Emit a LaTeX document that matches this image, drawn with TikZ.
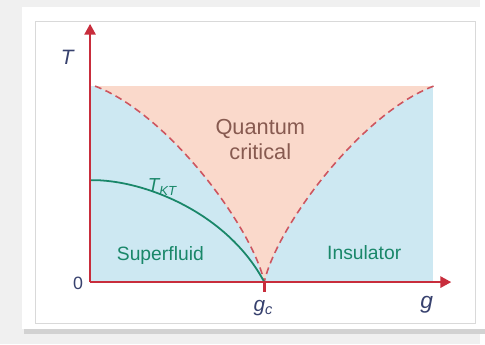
\documentclass[tikz,border=0pt]{standalone}
\usepackage{fontspec}
\setmainfont{Liberation Sans}
\usetikzlibrary{arrows.meta, positioning}
\definecolor{bgblue}{RGB}{205,232,242}
\definecolor{bgpink}{RGB}{250,217,203}
\definecolor{axred}{RGB}{200,45,60}
\definecolor{dashred}{RGB}{205,85,95}
\definecolor{ktgreen}{RGB}{25,135,105}
\definecolor{labblue}{RGB}{55,65,110}
\definecolor{qcbrown}{RGB}{135,90,80}
\begin{document}
\begin{tikzpicture}[
  x=1pt, y=-1pt,
  axis/.style={draw=axred, line width=2.8pt, -{Triangle[length=11pt, width=11pt]}},
  phase/.style={draw=dashred, line width=1.6pt, dash pattern=on 7pt off 4.5pt},
  axlab/.style={text=labblue, font=\fontsize{21}{21}\selectfont\itshape, inner sep=0pt},
  region/.style={text=ktgreen, font=\fontsize{19.5}{19.5}\selectfont, inner sep=0pt}
]
\fill[gray!12] (0,0) rectangle (485,348);
\fill[gray!35] (24,12) rectangle (490,337);
\fill[white] (22,7) rectangle (490,332);
\draw[gray!30, line width=0.6pt] (36,22) rectangle (480,327);
\useasboundingbox (0,0) rectangle (485,348);

\coordinate (O) at (91,285);
\coordinate (gc) at (267,285);
\coordinate (lt) at (96,87);
\coordinate (rt) at (438,87);
\coordinate (tk0) at (91,182);

\fill[bgblue] (91,87) rectangle (437,285);
\fill[bgpink] (lt) .. controls (170,115) and (255,230) .. (gc)
  .. controls (279,230) and (364,115) .. (rt) -- cycle;
\draw[phase] (lt) .. controls (170,115) and (255,230) .. (gc);
\draw[phase] (rt) .. controls (364,115) and (279,230) .. (gc);
\draw[ktgreen, line width=1.8pt] (tk0) .. controls (145,181) and (230,215) .. (gc);

\coordinate (ytop) at (91,24);
\coordinate (xend) at (456,285);
\coordinate (gctick) at (267,295);
\draw[axis] (O) -- (ytop);
\draw[axis] (O) -- (xend);
\draw[axred, line width=2.8pt] (gc) -- (gctick);

\node[axlab] (ylab) at (68,58) {T};
\node[text=labblue, font=\fontsize{18}{18}\selectfont, inner sep=0pt] (zero) at (79,286) {0};
\node[axlab] (gclab) at (266,311) {g\textsubscript{\itshape c}};
\node[axlab, font=\fontsize{23}{23}\selectfont\itshape] (xlab) at (431,308) {g};
\node[text=ktgreen, font=\fontsize{19}{19}\selectfont\itshape, inner sep=0pt] (tkt) at (164,189) {T\textsubscript{KT}};
\node[text=qcbrown, font=\fontsize{22}{25}\selectfont, align=center, inner sep=0pt] (qc) at (263,141) {Quantum\\critical};
\node[region] (sf) at (162,258) {Superfluid};
\node[region] (ins) at (368,255) {Insulator};
\end{tikzpicture}
\end{document}
